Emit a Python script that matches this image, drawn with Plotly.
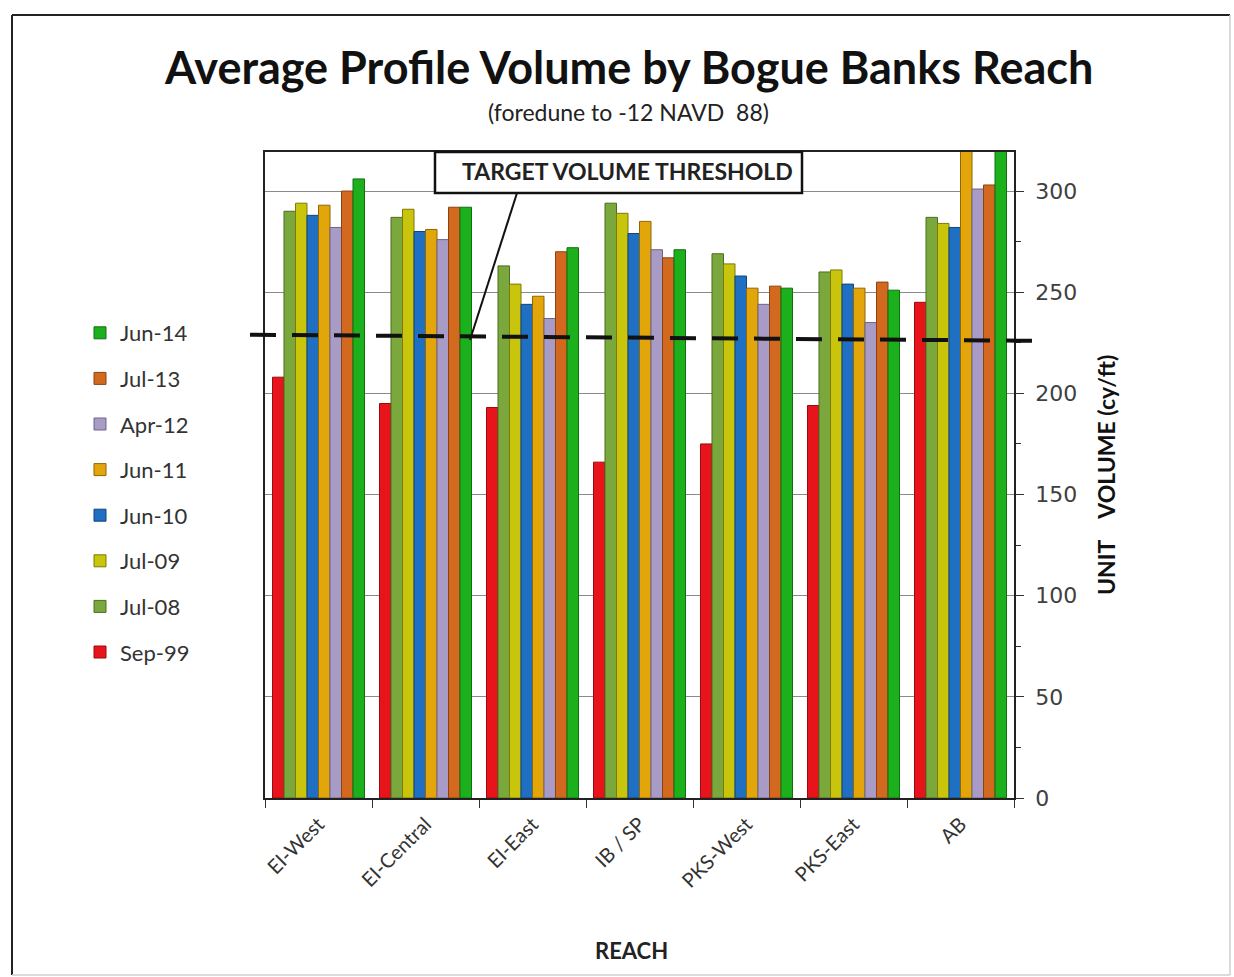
import plotly.graph_objects as go

reaches = ["EI-West", "EI-Central", "EI-East", "IB / SP", "PKS-West", "PKS-East", "AB"]
series_names = ["Sep-99", "Jul-08", "Jul-09", "Jun-10", "Jun-11", "Apr-12", "Jul-13", "Jun-14"]
sep99 = [208, 195, 193, 166, 175, 194, 245]
jul08 = [290, 287, 263, 294, 269, 260, 287]
jul09 = [294, 291, 254, 289, 264, 261, 284]
jun10 = [288, 280, 244, 279, 258, 254, 282]
jun11 = [293, 281, 248, 285, 252, 252, 330]
apr12 = [282, 276, 237, 271, 244, 235, 301]
jul13 = [300, 292, 270, 267, 253, 255, 303]
jun14 = [306, 292, 272, 271, 252, 251, 335]
series_values = [sep99, jul08, jul09, jun10, jun11, apr12, jul13, jun14]
threshold = [229, 226]  # left end, right end of target volume line
y_ticks = [0, 50, 100, 150, 200, 250, 300]

colors = ["#E8141B", "#7AA83C", "#C9C40C", "#1F6FC2", "#E2A60A", "#A89CC6", "#D2691E", "#1DB01D"]
edge = ["#9A0A0E", "#4E6B22", "#7E7A05", "#13457A", "#8E6806", "#6E6488", "#8A4412", "#107010"]

W, H = 1234, 977
L, R, T, B = 265, 1014, 152, 798


def px(x):
    return (x - L) / (R - L)


def py(y):
    return (B - y) / (B - T)


fig = go.Figure()
n = len(series_names)
for i, (name, vals, c, e) in enumerate(zip(series_names, series_values, colors, edge)):
    fig.add_trace(go.Bar(
        x=reaches, y=vals, name=name, legendgroup=name, legendrank=n - i,
        marker=dict(color=c, line=dict(color=e, width=1)),
    ))

body_font = "Lato, 'Open Sans', sans-serif"

fig.update_layout(
    width=W, height=H,
    margin=dict(l=L, r=W - R, t=T, b=H - B, pad=0),
    paper_bgcolor="white", plot_bgcolor="white",
    barmode="group", bargap=0.14, bargroupgap=0,
    showlegend=True,
    legend=dict(
        x=px(80), y=py(312), xanchor="left", yanchor="top",
        traceorder="grouped", tracegroupgap=14,
        font=dict(family=body_font, size=22, color="#333333"),
        itemwidth=30, bgcolor="rgba(0,0,0,0)",
    ),
    xaxis=dict(
        type="category", tickangle=-45, tickson="boundaries",
        ticks="outside", ticklen=8, tickcolor="#333",
        showline=True, linecolor="#222", linewidth=1.5, mirror=True,
        tickfont=dict(family=body_font, size=20, color="#333333"),
        ticklabelstandoff=5,
        showgrid=False,
    ),
    yaxis=dict(
        side="right", range=[0, 319.3], tickvals=y_ticks,
        ticks="outside", ticklen=8, tickcolor="#333",
        minor=dict(dtick=25, ticks="outside", ticklen=5, tickcolor="#333", showgrid=False),
        showline=True, linecolor="#222", linewidth=1.5, mirror=True,
        showgrid=True, gridcolor="#8a8a8a", gridwidth=1,
        tickfont=dict(family="DejaVu Sans", size=22, color="#404040"),
        ticklabelstandoff=7,
        zeroline=False,
    ),
)

shapes = [
    # outer frame
    dict(type="line", xref="paper", yref="paper", x0=px(12), x1=px(12), y0=py(975), y1=py(15),
         line=dict(color="#222", width=2)),
    dict(type="line", xref="paper", yref="paper", x0=px(12), x1=px(1230), y0=py(15), y1=py(15),
         line=dict(color="#222", width=2)),
    dict(type="line", xref="paper", yref="paper", x0=px(1230), x1=px(1230), y0=py(975), y1=py(15),
         line=dict(color="#cfcfcf", width=1.5)),
    dict(type="line", xref="paper", yref="paper", x0=px(12), x1=px(1230), y0=py(975), y1=py(975),
         line=dict(color="#cfcfcf", width=1.5)),
    # threshold dashed line
    dict(type="line", xref="paper", yref="y", x0=px(250), x1=px(1032), y0=threshold[0], y1=threshold[1],
         line=dict(color="#111", width=4, dash="26px,16px")),
    # label box
    dict(type="rect", xref="paper", yref="paper", x0=px(435), x1=px(802), y0=py(193), y1=py(152),
         line=dict(color="#111", width=2.5), fillcolor="white", layer="above"),
    # leader line
    dict(type="line", xref="paper", yref="paper", x0=px(517), x1=px(470), y0=py(193), y1=py(340),
         line=dict(color="#111", width=2)),
]
fig.update_layout(shapes=shapes)

annotations = [
    dict(text="<b>Average Profile Volume by Bogue Banks Reach</b>", x=px(628), y=py(67),
         font=dict(family=body_font, size=45, color="#111")),
    dict(text="(foredune to -12 NAVD  88)", x=px(628), y=py(112),
         font=dict(family=body_font, size=23, color="#222")),
    dict(text="<b>TARGET VOLUME THRESHOLD</b>", x=px(627), y=py(171),
         font=dict(family=body_font, size=23, color="#222")),
    dict(text="<b>REACH</b>", x=px(631), y=py(950),
         font=dict(family=body_font, size=22, color="#222")),
    dict(text="<b>UNIT    VOLUME (cy/ft)</b>", x=px(1106), y=py(475), textangle=-90,
         font=dict(family=body_font, size=23, color="#111")),
]
for a in annotations:
    a.update(xref="paper", yref="paper", showarrow=False, xanchor="center", yanchor="middle")
fig.update_layout(annotations=annotations)

fig.write_html("out.html")
